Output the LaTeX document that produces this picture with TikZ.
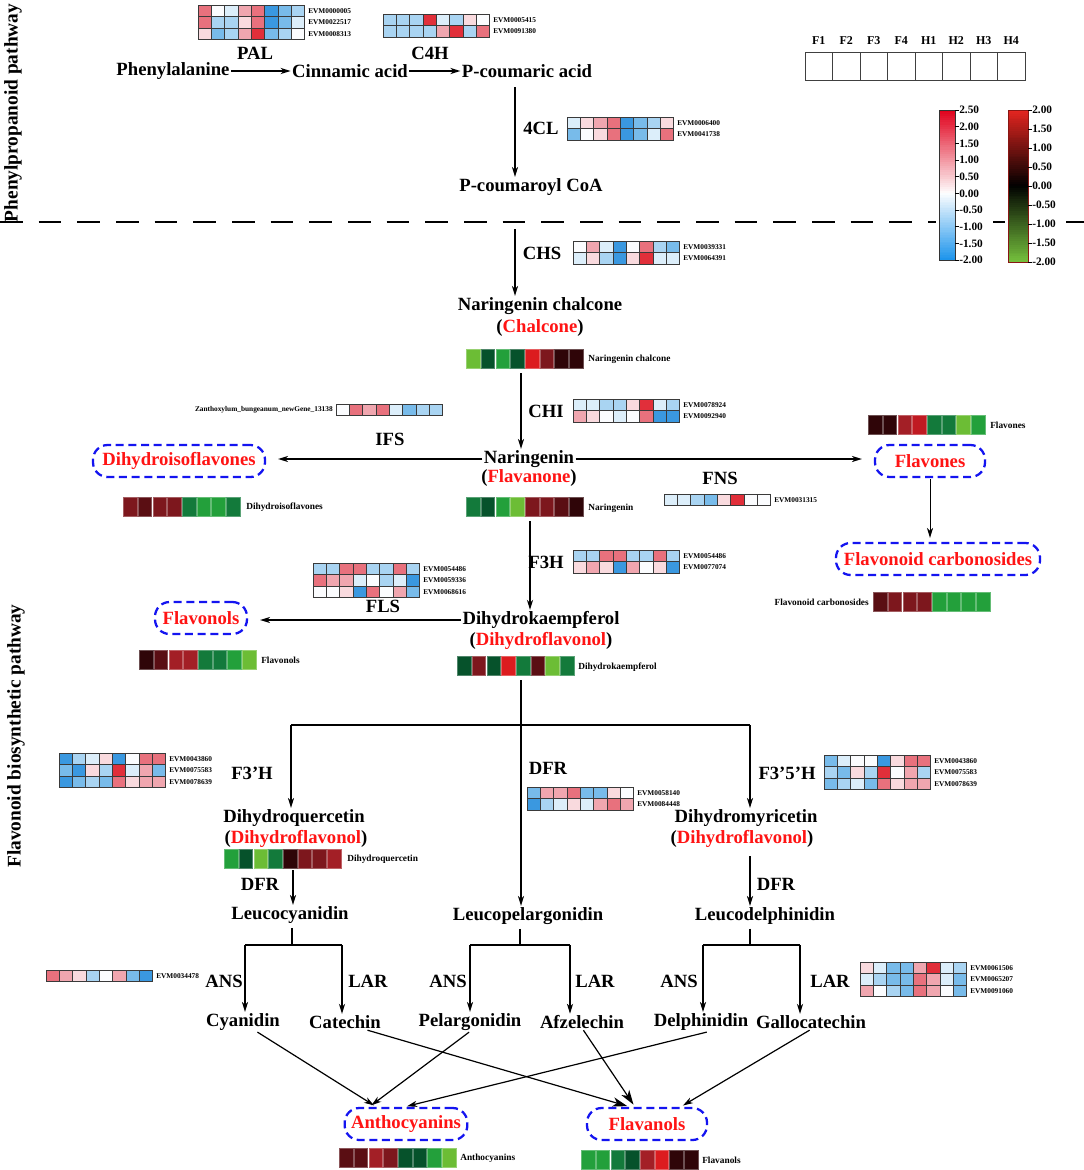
\documentclass[tikz,border=0pt]{standalone}
\usepackage{fontspec}
\setmainfont{Liberation Serif}
\usetikzlibrary{arrows.meta}
\definecolor{R3}{HTML}{E12F3A}
\definecolor{R2}{HTML}{E8717D}
\definecolor{R1}{HTML}{F0A6AF}
\definecolor{R0}{HTML}{F9DADE}
\definecolor{W0}{HTML}{FBFCFE}
\definecolor{B0}{HTML}{DCEEFA}
\definecolor{B1}{HTML}{A9D4F2}
\definecolor{B2}{HTML}{78BBEA}
\definecolor{B3}{HTML}{3A98E0}
\definecolor{G3}{HTML}{6CBD35}
\definecolor{G2}{HTML}{23A03B}
\definecolor{G1}{HTML}{137A3B}
\definecolor{G0}{HTML}{06522B}
\definecolor{K0}{HTML}{2F0508}
\definecolor{D1}{HTML}{5A0E13}
\definecolor{D2}{HTML}{7D171D}
\definecolor{D3}{HTML}{A31F26}
\definecolor{RD}{HTML}{C01A22}
\definecolor{RR}{HTML}{DC1C1F}
\definecolor{tred}{HTML}{FF1414}
\definecolor{dblue}{HTML}{1414F0}
\definecolor{cellb}{HTML}{3A3A3A}
\definecolor{CBr}{HTML}{E0001B}
\definecolor{CBb}{HTML}{1E95EC}
\definecolor{CGr}{HTML}{E42520}
\definecolor{CGg}{HTML}{74BE3C}
\newcommand\hmgene[4]{%
  \foreach \hmc [count=\hmi from 0] in {#3}{%
    \filldraw[fill=\hmc,draw=cellb,line width=0.45pt] ({#1+\hmi*13.3},{#2}) rectangle ++(13.3,11.5);}%
  \node[glab] at ({#1+110},{#2+5.75}) {#4};}
\newcommand\hmmet[3]{%
  \foreach \hmc [count=\hmi from 0] in {#3}{%
    \filldraw[fill=\hmc,draw=\hmc!70!white,line width=0.5pt] ({#1+\hmi*14.7+0.6},{#2+0.6}) rectangle ++(13.5,18.8);}}
\begin{document}
\begin{tikzpicture}[x=0.75pt,y=-0.75pt,
  lbl/.style={font=\bfseries\fontsize{14}{16}\selectfont, inner sep=1pt},
  seclbl/.style={font=\bfseries\fontsize{14.5}{17}\selectfont, inner sep=1pt, rotate=90},
  glab/.style={font=\bfseries\fontsize{5.5}{6}\selectfont, anchor=west, inner sep=0pt},
  mlab/.style={font=\bfseries\fontsize{7}{8}\selectfont, anchor=west, inner sep=0pt},
  cblab/.style={font=\bfseries\fontsize{8.5}{9}\selectfont, anchor=west, inner sep=0pt},
  leglab/.style={font=\bfseries\fontsize{9}{10}\selectfont, inner sep=0pt},
  metab/.style={draw=dblue, line width=1.7pt, dash pattern=on 6pt off 3.5pt, rounded corners=11pt, text=tred, font=\bfseries\fontsize{14}{16}\selectfont, minimum height=24pt, inner xsep=4pt},
  arr/.style={-{Stealth[length=7.5pt,width=4.6pt,inset=2.2pt]}, line width=0.9pt},
  bigarr/.style={-{Stealth[length=11pt,width=7pt,inset=3pt]}, line width=0.9pt},
  ln/.style={line width=0.9pt}]
\useasboundingbox (0,0) rectangle (1084,1170);
\fill[white] (0,0) rectangle (1084,1170);

% section labels
\node[seclbl] (secA) at (13,113) {Phenylpropanoid pathway};
\node[seclbl] (secB) at (16,736) {Flavonoid biosynthetic pathway};

% dashed separator
\draw[line width=1.5pt, dash pattern=on 17pt off 12pt] (0,222) -- (936,222);
\draw[line width=1.5pt] (993,222) -- (1005,222);
\draw[line width=1.5pt] (1066,222) -- (1084,222);

% legend
\foreach \lab [count=\i from 0] in {F1,F2,F3,F4,H1,H2,H3,H4}{%
  \node[leglab] (leg\lab) at ({805+13.75+27.5*\i},41) {\lab};
  \draw[line width=0.6pt, black!75] ({805+27.5*\i},52) rectangle ++(27.5,28);}

% colorbar 1
\foreach \k in {0,...,39}{\pgfmathtruncatemacro\hmp{100-2.5*\k}%
  \fill[CBr!\hmp!white] (939,{110+\k*83.33/40}) rectangle (955,{110+(\k+1)*83.33/40+0.4});}
\foreach \k in {0,...,39}{\pgfmathtruncatemacro\hmp{2.5*(\k+1)}%
  \fill[CBb!\hmp!white] (939,{193.33+\k*66.67/40}) rectangle (955,{min(260,193.33+(\k+1)*66.67/40+0.4)});}
\draw[line width=0.6pt, black!80] (939,110) rectangle (955,260);
\foreach \t [count=\i from 0] in {2.50,2.00,1.50,1.00,0.50,0.00,-0.50,-1.00,-1.50,-2.00}{%
  \draw[line width=0.5pt] (955,{110+\i*16.667}) -- ++(4,0);
  \node[cblab] at (959,{110+\i*16.667}) {\t};}

% colorbar 2
\foreach \k in {0,...,39}{\pgfmathtruncatemacro\hmp{100-2.5*\k}%
  \fill[CGr!\hmp!black] (1008,{110+\k*76/40}) rectangle (1028,{110+(\k+1)*76/40+0.4});}
\foreach \k in {0,...,39}{\pgfmathtruncatemacro\hmp{2.5*(\k+1)}%
  \fill[CGg!\hmp!black] (1008,{186+\k*76/40}) rectangle (1028,{min(262,186+(\k+1)*76/40+0.4)});}
\draw[line width=0.5pt, CGr!60!black] (1008,110) rectangle (1028,262);
\foreach \t [count=\i from 0] in {2.00,1.50,1.00,0.50,0.00,-0.50,-1.00,-1.50,-2.00}{%
  \draw[line width=0.5pt] (1028,{110+\i*19}) -- ++(4,0);
  \node[cblab] at (1032,{110+\i*19}) {\t};}

% top row
\node[lbl] (phe) at (173,71) {Phenylalanine};
\node[lbl] (cin) at (350,71) {Cinnamic acid};
\node[lbl] (pcou) at (527,71) {P-coumaric acid};
\node[lbl] (pal) at (255,53) {PAL};
\node[lbl] (c4h) at (430,53) {C4H};
\draw[arr] (phe) -- (cin);
\draw[arr] (cin) -- (pcou);
\hmgene{198}{5}{R2,W0,B0,R1,R2,B3,B2,B1}{EVM0000005}
\hmgene{198}{16.5}{R2,B1,B1,R0,R2,B3,B2,B0}{EVM0022517}
\hmgene{198}{28}{R0,B2,B1,R1,R3,B2,B1,W0}{EVM0008313}
\hmgene{383}{14}{B1,B1,B1,R3,B0,B1,R0,W0}{EVM0005415}
\hmgene{383}{25.5}{B1,B1,B1,B1,R1,R3,B1,R2}{EVM0091380}

% 4CL
\node[lbl] (e4cl) at (541,128) {4CL};
\hmgene{567}{117}{B0,R0,R1,R2,B3,B2,B1,R0}{EVM0006400}
\hmgene{567}{128.5}{B2,W0,R0,R2,B3,B2,B0,R2}{EVM0041738}
\node[lbl] (pcoa) at (531,187) {P-coumaroyl CoA};
\coordinate (c515) at (515,0);
\draw[arr, shorten <=6pt] (pcou.south -| c515) -- (pcoa.north -| c515);

% CHS
\node[lbl] (chs) at (542,253) {CHS};
\hmgene{573}{241}{W0,R1,B0,B3,W0,R2,B1,B2}{EVM0039331}
\hmgene{573}{252.5}{B0,R0,B1,B3,R0,R3,B0,B0}{EVM0064391}
\coordinate (chsT) at (515,229);
\node[lbl] (nc) at (540,306) {Naringenin chalcone};
\node[lbl] (ncs) at (540,328) {(\textcolor{tred}{Chalcone})};
\draw[arr] (chsT) -- (chsT |- nc.north);
\hmmet{466}{349}{G3,G0,G2,G0,RR,D2,K0,K0}
\node[mlab] at (588,359) {Naringenin chalcone};

% CHI
\node[lbl] (chi) at (546,411) {CHI};
\hmgene{573}{399}{B0,B0,B1,B1,R0,R3,B0,B1}{EVM0078924}
\hmgene{573}{410.5}{R1,R0,W0,B0,W0,R2,B3,B3}{EVM0092940}
\coordinate (chiT) at (521,373);
\node[lbl] (nar) at (529,459) {Naringenin};
\node[lbl] (nars) at (529,478) {(\textcolor{tred}{Flavanone})};
\draw[arr] (chiT) -- (chiT |- nar.north);
\hmmet{466}{497}{G1,G0,G2,G3,D2,D2,D1,K0}
\node[mlab] at (588,508) {Naringenin};

% IFS
\node[glab, anchor=east] at (333,410) {Zanthoxylum\_bungeanum\_newGene\_13138};
\hmgene{336}{404}{W0,R2,R1,R2,B0,B2,B1,B1}{}
\node[lbl] (ifs) at (390,439) {IFS};
\node[metab, minimum width=129pt] (dif) at (179,461) {Dihydroisoflavones};
\draw[arr, shorten >=9pt] (nar.west) -- (nar.west -| dif.east);
\hmmet{123}{497}{D2,D1,D2,D2,G1,G2,G2,G1}
\node[mlab] at (246,507) {Dihydroisoflavones};

% FNS
\node[lbl] (fns) at (720,478) {FNS};
\hmgene{664}{494}{B0,B0,B1,B2,R0,R3,W0,W0}{EVM0031315}
\node[metab, minimum width=82.5pt] (flv) at (930,461) {Flavones};
\draw[arr, shorten >=9pt] (nar.east) -- (nar.east -| flv.west);
\hmmet{868}{415}{K0,K0,D3,RD,G1,G1,G3,G2}
\node[mlab] at (990,425) {Flavones};
\node[metab, minimum width=153pt] (fc) at (938,559) {Flavonoid carbonosides};
\draw[arr, line width=0.7pt, shorten <=1pt, shorten >=3pt] (flv.south) -- (flv.south |- fc.north);
\hmmet{873}{592}{D1,D2,D2,D2,G2,G2,G2,G2}
\node[mlab, anchor=east] at (869,602) {Flavonoid carbonosides};

% F3H
\node[lbl] (f3h) at (546,562) {F3H};
\hmgene{573}{550}{B1,B1,R2,R2,B1,B1,R2,B1}{EVM0054486}
\hmgene{573}{561.5}{R0,R1,R0,B3,R1,W0,R0,B3}{EVM0077074}
\coordinate (f3hT) at (530,521);
\node[lbl] (dhk) at (541,620) {Dihydrokaempferol};
\node[lbl] (dhks) at (541,641) {(\textcolor{tred}{Dihydroflavonol})};
\draw[arr] (f3hT) -- (f3hT |- dhk.north);
\hmmet{457}{656}{G0,D2,G0,RR,G1,D1,G3,G1}
\node[mlab] at (578,667) {Dihydrokaempferol};

% FLS
\hmgene{313}{563}{B1,B1,R2,R2,B1,B1,R2,B1}{EVM0054486}
\hmgene{313}{574.5}{R2,R1,R1,B0,W0,B1,B0,B3}{EVM0059336}
\hmgene{313}{586}{W0,W0,R0,B3,R2,W0,R1,B2}{EVM0068616}
\node[lbl] (fls) at (383,606) {FLS};
\node[metab, minimum width=69pt] (fol) at (201,618) {Flavonols};
\draw[arr, shorten >=9pt] (dhk.west) -- (dhk.west -| fol.east);
\hmmet{139}{650}{K0,D1,D3,D3,G1,G1,G2,G3}
\node[mlab] at (261,660) {Flavonols};

% branching below dihydrokaempferol
\coordinate (dkB) at (521,680);
\coordinate (brL) at (291,725);
\coordinate (brR) at (750,725);
\node[lbl] (lpe) at (528,916) {Leucopelargonidin};
\draw[arr] (dkB) -- (dkB |- lpe.north);
\draw[ln] (brL) -- (brR);
\node[lbl] (dhq) at (294,818) {Dihydroquercetin};
\node[lbl] (dhqs) at (296,839) {(\textcolor{tred}{Dihydroflavonol})};
\node[lbl] (dhm) at (746,818) {Dihydromyricetin};
\node[lbl] (dhms) at (742,839) {(\textcolor{tred}{Dihydroflavonol})};
\draw[arr] (brL) -- (brL |- dhq.north);
\draw[arr] (brR) -- (brR |- dhm.north);

% F3'H
\hmgene{59}{753}{B3,B1,B0,R0,B3,W0,R2,R2}{EVM0043860}
\hmgene{59}{764.5}{B2,B3,R0,B1,R3,B0,R1,B2}{EVM0075583}
\hmgene{59}{776}{B3,B2,B1,B2,R2,R0,R1,R1}{EVM0078639}
\node[lbl] (f3ph) at (252,773) {F3’H};
% DFR
\node[lbl] (dfr) at (548,768) {DFR};
\hmgene{527}{787}{B2,R1,R1,R2,B2,B2,R0,W0}{EVM0058140}
\hmgene{527}{798.5}{B3,B1,B0,R0,B0,R1,R2,R1}{EVM0084448}
% F3'5'H
\node[lbl] (f35h) at (787,773) {F3’5’H};
\hmgene{824}{755}{B2,B0,W0,W0,B3,R0,R2,R2}{EVM0043860}
\hmgene{824}{766.5}{B1,B2,R0,B1,R3,W0,R1,B1}{EVM0075583}
\hmgene{824}{778}{B2,B1,B0,B2,R2,R0,R1,R1}{EVM0078639}

\hmmet{224}{849}{G2,G0,G3,G1,K0,D2,D2,D3}
\node[mlab] at (347,859) {Dihydroquercetin};

% DFR to leuco
\node[lbl] (dfrl) at (260,884) {DFR};
\node[lbl] (dfrr) at (776,884) {DFR};
\node[lbl] (lcy) at (290,915) {Leucocyanidin};
\node[lbl] (lde) at (765,916) {Leucodelphinidin};
\coordinate (dfrLT) at (293,870);
\coordinate (dfrRT) at (750,856);
\draw[arr] (dfrLT) -- (dfrLT |- lcy.north);
\draw[arr] (dfrRT) -- (dfrRT |- lde.north);

% products
\node[lbl] (cya) at (243,1022) {Cyanidin};
\node[lbl] (cat) at (345,1022) {Catechin};
\node[lbl] (pel) at (470,1022) {Pelargonidin};
\node[lbl] (afz) at (582,1022) {Afzelechin};
\node[lbl] (del) at (701,1022) {Delphinidin};
\node[lbl] (gal) at (811,1022) {Gallocatechin};

\coordinate (bL) at (292,945);
\coordinate (bM) at (520,945);
\coordinate (bR) at (750,945);
\coordinate (a1) at (245,945);
\coordinate (a2) at (342,945);
\coordinate (a3) at (470,945);
\coordinate (a4) at (570,945);
\coordinate (a5) at (703,945);
\coordinate (a6) at (800,945);
\draw[ln, shorten <=2pt] (bL |- lcy.south) -- (bL);
\draw[ln, shorten <=2pt] (bM |- lpe.south) -- (bM);
\draw[ln, shorten <=2pt] (bR |- lde.south) -- (bR);
\draw[ln] (a1) -- (a2);
\draw[ln] (a3) -- (a4);
\draw[ln] (a5) -- (a6);
\draw[arr] (a1) -- (a1 |- cya.north);
\draw[arr] (a2) -- (a2 |- cat.north);
\draw[arr] (a3) -- (a3 |- pel.north);
\draw[arr] (a4) -- (a4 |- afz.north);
\draw[arr] (a5) -- (a5 |- del.north);
\draw[arr] (a6) -- (a6 |- gal.north);

\node[lbl] (ans1) at (224,981) {ANS};
\node[lbl] (lar1) at (368,981) {LAR};
\node[lbl] (ans2) at (448,981) {ANS};
\node[lbl] (lar2) at (595,981) {LAR};
\node[lbl] (ans3) at (679,981) {ANS};
\node[lbl] (lar3) at (830,981) {LAR};

\hmgene{46}{970}{R2,R1,R0,B1,W0,R1,B2,B3}{EVM0034478}
\hmgene{860}{962}{R0,B0,B2,B2,R1,R3,B0,B1}{EVM0061506}
\hmgene{860}{973.5}{B0,B1,B2,B2,R2,R1,B0,B2}{EVM0065207}
\hmgene{860}{985}{R1,W0,B1,B2,R2,R1,W0,B2}{EVM0091060}

% final groups
\node[metab, minimum width=92pt] (antho) at (406,1124) {Anthocyanins};
\node[metab, minimum width=90pt] (flavan) at (647,1124) {Flavanols};
\hmmet{339}{1148}{D1,D1,D3,D2,G0,G0,G2,G3}
\node[mlab] at (460,1158) {Anthocyanins};
\hmmet{581}{1150}{G2,G2,G1,G0,D3,RR,K0,K0}
\node[mlab] at (702,1160) {Flavanols};

\draw[arr, shorten >=2pt] (cya.-35) -- (antho.150);
\draw[bigarr, shorten >=2pt] (cat.-20) -- (flavan.135);
\draw[arr, shorten >=2pt] (pel.-95) -- (antho.155);
\draw[bigarr, shorten >=2pt] (afz.-80) -- (flavan.125);
\draw[arr, shorten >=2pt] (del.-60) -- (antho.95);
\draw[arr, shorten >=2pt] (gal.-100) -- (flavan.27);
\end{tikzpicture}
\end{document}
